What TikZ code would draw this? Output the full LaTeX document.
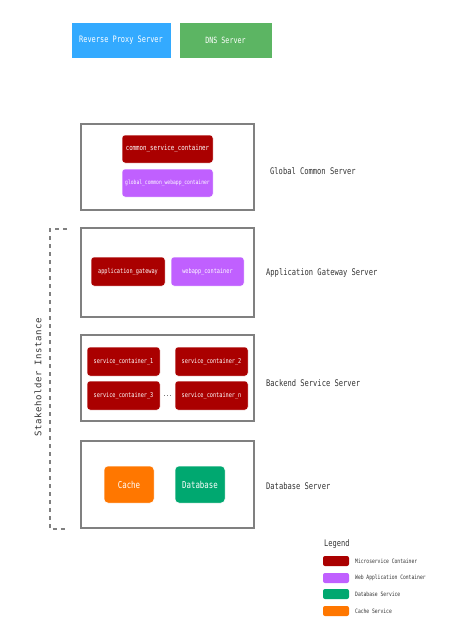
\documentclass[tikz,border=0pt]{standalone}
\usepackage{fontspec}
\setmainfont{DejaVu Sans Mono}[FakeStretch=0.78]
\newfontfamily\shfont{DejaVu Sans Mono}[LetterSpace=6]
\definecolor{cblue}{HTML}{33AAFF}
\definecolor{cgreen}{HTML}{5CB563}
\definecolor{cred}{HTML}{AA0000}
\definecolor{cpurple}{HTML}{C060FF}
\definecolor{cdb}{HTML}{00A870}
\definecolor{corange}{HTML}{FF7700}
\definecolor{cgray}{HTML}{808080}
\definecolor{ctext}{HTML}{333333}
\newcommand{\fs}[1]{\fontsize{#1}{#1}\selectfont}
\begin{document}
\begin{tikzpicture}[x=1pt,y=-1pt,
  topbox/.style={draw=white,line width=0.8pt,text=white,inner sep=0pt},
  server/.style={draw=cgray,line width=2.5pt,fill=white},
  cont/.style={rounded corners=3pt,draw=white,line width=0.5pt,text=white,inner sep=0pt},
  big/.style={rounded corners=4pt,draw=white,line width=0.5pt,text=white,inner sep=0pt,font=\fs{9.5}},
  lbl/.style={anchor=west,text=ctext,font=\fs{9.1},inner sep=0pt},
  sw/.style={rounded corners=2pt,inner sep=0pt,minimum width=26pt,minimum height=10pt},
  leglbl/.style={anchor=west,text=ctext,font=\fs{6},inner sep=0pt}]
\useasboundingbox[fill=white] (0,0) rectangle (456,638);

% top boxes
\node[topbox,fill=cblue,minimum width=100pt,minimum height=36pt,font=\fs{8.9}] (rp) at (121,40) {Reverse Proxy Server};
\node[topbox,fill=cgreen,minimum width=93pt,minimum height=36pt,font=\fs{8.6}] (dns) at (225.5,40) {DNS Server};

% stakeholder bracket
\coordinate (bt1) at (67,229);
\coordinate (bt0) at (50,229);
\coordinate (bb0) at (50,529);
\coordinate (bb1) at (67,529);
\draw[cgray,line width=1.2pt,dash pattern=on 4pt off 4pt] (bt1) -- (bt0) -- (bb0) -- (bb1);
\node[rotate=90,text=ctext,font=\shfont\fs{9},inner sep=0pt] (sh) at (38,377) {Stakeholder Instance};

% Global common server
\node[server,minimum width=173pt,minimum height=86pt] (gcs) at (167.5,167) {};
\node[cont,fill=cred,minimum width=91pt,minimum height=28pt,font=\fs{7.4}] (csc) at (167.5,149) {common\_service\_container};
\node[cont,fill=cpurple,minimum width=91pt,minimum height=28pt,font=\fs{6}] (gcwc) at (167.5,183) {global\_common\_webapp\_container};
\node[lbl] (gcsl) at (270,171) {Global Common Server};

% Application gateway server
\node[server,minimum width=173pt,minimum height=89pt] (ags) at (167.5,272.5) {};
\node[cont,fill=cred,minimum width=74pt,minimum height=29pt,font=\fs{6.7}] (ag) at (128,271.5) {application\_gateway};
\node[cont,fill=cpurple,minimum width=73pt,minimum height=29pt,font=\fs{6.7}] (wc) at (207.5,271.5) {webapp\_container};
\node[lbl] (agsl) at (266,273) {Application Gateway Server};

% Backend service server
\node[server,minimum width=173pt,minimum height=86pt] (bss) at (167.5,378) {};
\node[cont,fill=cred,minimum width=73pt,minimum height=29pt,font=\fs{6.7}] (s1) at (123.5,361.5) {service\_container\_1};
\node[cont,fill=cred,minimum width=73pt,minimum height=29pt,font=\fs{6.7}] (s2) at (211.5,361.5) {service\_container\_2};
\node[cont,fill=cred,minimum width=73pt,minimum height=29pt,font=\fs{6.7}] (s3) at (123.5,395.5) {service\_container\_3};
\node[cont,fill=cred,minimum width=73pt,minimum height=29pt,font=\fs{6.7}] (sn) at (211.5,395.5) {service\_container\_n};
\node[text=ctext,font=\fs{6.7},inner sep=0pt] (dots) at (167.5,395.5) {...};
\node[lbl] (bssl) at (266,383) {Backend Service Server};

% Database server
\node[server,minimum width=173pt,minimum height=87pt] (dbs) at (167.5,484.5) {};
\node[big,fill=corange,minimum width=50pt,minimum height=37pt] (cache) at (129,484.5) {Cache};
\node[big,fill=cdb,minimum width=50pt,minimum height=37pt] (db) at (200,484.5) {Database};
\node[lbl] (dbsl) at (266,486) {Database Server};

% Legend
\node[anchor=west,text=ctext,font=\fs{9},inner sep=0pt] (leg) at (324,544) {Legend};
\node[sw,fill=cred] (l1) at (336,561) {};
\node[sw,fill=cpurple] (l2) at (336,578) {};
\node[sw,fill=cdb] (l3) at (336,594) {};
\node[sw,fill=corange] (l4) at (336,611) {};
\node[leglbl] (t1) at (355,561) {Microservice Container};
\node[leglbl] (t2) at (355,578) {Web Application Container};
\node[leglbl] (t3) at (355,594) {Database Service};
\node[leglbl] (t4) at (355,611) {Cache Service};
\end{tikzpicture}
\end{document}
